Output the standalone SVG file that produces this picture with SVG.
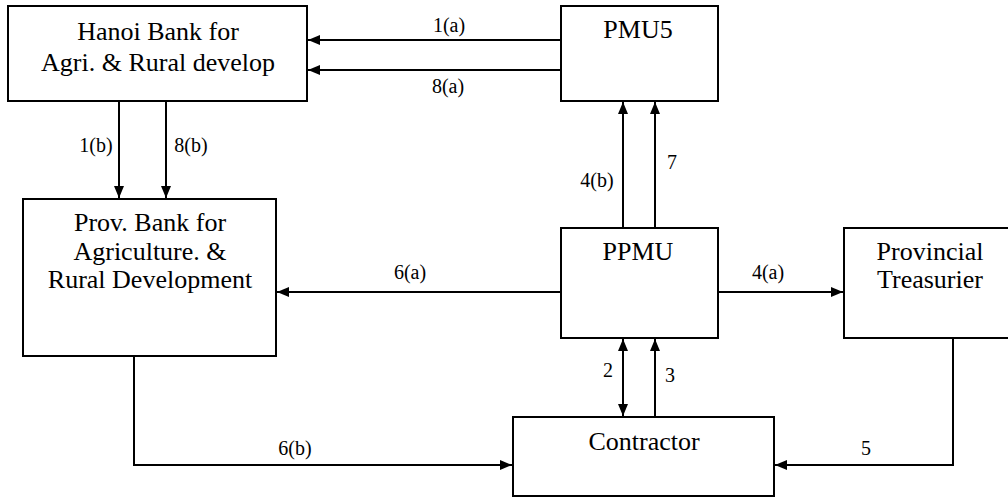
<svg xmlns="http://www.w3.org/2000/svg" width="1008" height="497" viewBox="0 0 1008 497">
<style>
.box{fill:#fff;stroke:#000;stroke-width:2}
.t{font-size:26px;fill:#000;text-anchor:middle}
.lbl{font-size:20px;fill:#000;text-anchor:middle}
.c{fill:none;stroke:#000;stroke-width:2}
</style>
<defs>
<marker id="ah" viewBox="0 0 12 10" refX="12" refY="5" markerWidth="12" markerHeight="10" markerUnits="userSpaceOnUse" orient="auto-start-reverse">
<path d="M0,0 L12,5 L0,10 Z" fill="#000"/>
</marker>
</defs>
<rect width="1008" height="497" fill="#fff"/>
<g font-family="Liberation Serif, DejaVu Serif, serif">
<g id="hanoi">
<rect class="box" x="8" y="6" width="299" height="95"/>
<text class="t" x="158" y="40">Hanoi Bank for</text>
<text class="t" x="158" y="71">Agri. &amp; Rural develop</text>
</g>
<g id="pmu5">
<rect class="box" x="561" y="6" width="157" height="95"/>
<text class="t" x="638" y="38">PMU5</text>
</g>
<g id="provbank">
<rect class="box" x="23" y="199" width="253" height="157"/>
<text class="t" x="150" y="231">Prov. Bank for</text>
<text class="t" x="150" y="260">Agriculture. &amp;</text>
<text class="t" x="150" y="288">Rural Development</text>
</g>
<g id="ppmu">
<rect class="box" x="561" y="228" width="157" height="110"/>
<text class="t" x="638" y="260">PPMU</text>
</g>
<g id="treasurier">
<rect class="box" x="844" y="228" width="170" height="110"/>
<text class="t" x="930" y="260">Provincial</text>
<text class="t" x="930" y="288">Treasurier</text>
</g>
<g id="contractor">
<rect class="box" x="513" y="417" width="261" height="79"/>
<text class="t" x="644" y="450">Contractor</text>
</g>
<g id="connectors">
<path class="c" d="M561,40 H308" marker-end="url(#ah)"/>
<path class="c" d="M561,70 H308" marker-end="url(#ah)"/>
<path class="c" d="M119,101 V198" marker-end="url(#ah)"/>
<path class="c" d="M166,101 V198" marker-end="url(#ah)"/>
<path class="c" d="M623,228 V102" marker-end="url(#ah)"/>
<path class="c" d="M655,228 V102" marker-end="url(#ah)"/>
<path class="c" d="M561,292 H277" marker-end="url(#ah)"/>
<path class="c" d="M718,292 H843" marker-end="url(#ah)"/>
<path class="c" d="M623,339 V416" marker-start="url(#ah)" marker-end="url(#ah)"/>
<path class="c" d="M655,417 V339" marker-end="url(#ah)"/>
<path class="c" d="M953,338 V465 H775" marker-end="url(#ah)"/>
<path class="c" d="M134,356 V465 H512" marker-end="url(#ah)"/>
<text class="lbl" x="449" y="32">1(a)</text>
<text class="lbl" x="448" y="93">8(a)</text>
<text class="lbl" x="96" y="152">1(b)</text>
<text class="lbl" x="191" y="152">8(b)</text>
<text class="lbl" x="597" y="187">4(b)</text>
<text class="lbl" x="672" y="169">7</text>
<text class="lbl" x="410" y="279">6(a)</text>
<text class="lbl" x="768" y="279">4(a)</text>
<text class="lbl" x="608" y="377">2</text>
<text class="lbl" x="670" y="382">3</text>
<text class="lbl" x="866" y="455">5</text>
<text class="lbl" x="295" y="455">6(b)</text>
</g>
</g>
</svg>
